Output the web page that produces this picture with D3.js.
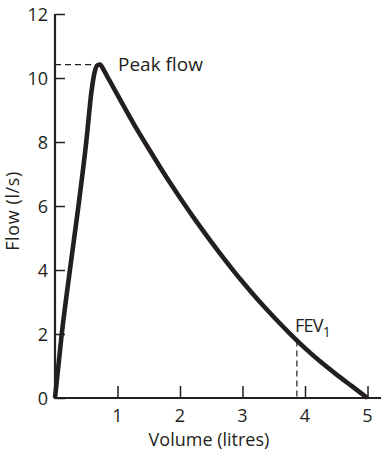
<!DOCTYPE html>
<html>
<head>
<meta charset="utf-8">
<script src="https://cdn.jsdelivr.net/npm/d3@7"></script>
<style>
  html, body { margin: 0; padding: 0; background: #fff; }
  svg text { font-family: "Open Sans", "Noto Sans", sans-serif; fill: #231f20; }
</style>
</head>
<body>
<svg id="chart" width="381" height="454"></svg>
<script>
// Flow–volume curve of a forced expiration
const volume = [0, 0.105, 0.235, 0.375, 0.50, 0.585, 0.63, 0.68, 0.72, 0.78, 0.85, 1.0, 1.25, 1.5, 1.75, 2.0, 2.25, 2.5, 2.75, 3.0, 3.25, 3.5, 3.75, 4.0, 4.25, 4.5, 4.75, 5.0];
const flow   = [0, 1.95, 3.95, 6.0, 8.0, 9.6, 10.15, 10.4, 10.42, 10.25, 10.0, 9.47, 8.6, 7.79, 7.0, 6.26, 5.55, 4.88, 4.24, 3.63, 3.06, 2.53, 2.03, 1.56, 1.13, 0.74, 0.37, 0];
const xTicks = [1, 2, 3, 4, 5];
const yTicks = [0, 2, 4, 6, 8, 10, 12];
const peakFlow = { volume: 0.71, flow: 10.42 };
const fev1 = { volume: 3.87, flow: 1.8 };

const ink = "#231f20";
const svg = d3.select("#chart");
const x = d3.scaleLinear().domain([0, 5]).range([55, 367.5]);
const y = d3.scaleLinear().domain([0, 12]).range([398, 14]);

// Axes
const gx = svg.append("g").attr("transform", `translate(0,${y(0)})`)
  .call(d3.axisTop(x).tickValues(xTicks).tickSize(12).tickFormat(""));
gx.select(".domain").remove();
gx.selectAll(".tick line").attr("stroke", ink).attr("stroke-width", 1.5);
svg.append("line").attr("x1", x(0) - 1).attr("x2", 381).attr("y1", y(0)).attr("y2", y(0))
  .attr("stroke", ink).attr("stroke-width", 2.2);

const gy = svg.append("g").attr("transform", `translate(${x(0)},0)`)
  .call(d3.axisRight(y).tickValues(yTicks).tickSize(10).tickFormat(""));
gy.select(".domain").remove();
gy.selectAll(".tick line").attr("stroke", ink).attr("stroke-width", 1.5);
svg.append("line").attr("x1", x(0)).attr("x2", x(0)).attr("y1", y(12)).attr("y2", y(0) + 1)
  .attr("stroke", ink).attr("stroke-width", 2.2);

// Tick labels
svg.selectAll(".xl").data(xTicks).join("text")
  .attr("x", d => x(d)).attr("y", 422).attr("text-anchor", "middle")
  .attr("font-size", 18).text(d => d);
svg.selectAll(".yl").data(yTicks).join("text")
  .attr("x", 48).attr("y", d => y(d) + 6.5).attr("text-anchor", "end")
  .attr("font-size", 18).text(d => d);

// Axis titles
svg.append("text").attr("x", 209).attr("y", 446).attr("text-anchor", "middle")
  .attr("font-size", 18).text("Volume (litres)");
svg.append("text").attr("transform", `translate(19,211) rotate(-90)`)
  .attr("text-anchor", "middle").attr("font-size", 18).attr("letter-spacing", 0.6)
  .text("Flow (l/s)");

// Reference markers
svg.append("line").attr("x1", x(0)).attr("x2", x(peakFlow.volume))
  .attr("y1", y(peakFlow.flow)).attr("y2", y(peakFlow.flow))
  .attr("stroke", ink).attr("stroke-width", 1.2).attr("stroke-dasharray", "6,4");
svg.append("line").attr("x1", x(fev1.volume)).attr("x2", x(fev1.volume))
  .attr("y1", y(fev1.flow)).attr("y2", y(0))
  .attr("stroke", ink).attr("stroke-width", 1.2).attr("stroke-dasharray", "6,4");

// Curve
const pts = volume.map((v, i) => [v, flow[i]]);
svg.append("path").datum(pts)
  .attr("d", d3.line().x(d => x(d[0])).y(d => y(d[1])).curve(d3.curveMonotoneX))
  .attr("fill", "none").attr("stroke", ink).attr("stroke-width", 4.6)
  .attr("stroke-linejoin", "round").attr("stroke-linecap", "butt");

// Annotations
svg.append("text").attr("x", 118).attr("y", 71).attr("font-size", 19).text("Peak flow");
const fevText = svg.append("text").attr("x", 295).attr("y", 332).attr("font-size", 18);
fevText.append("tspan").attr("letter-spacing", -0.8).text("FEV");
fevText.append("tspan").attr("font-size", 14).attr("dy", 5).text("1");
</script>
</body>
</html>
